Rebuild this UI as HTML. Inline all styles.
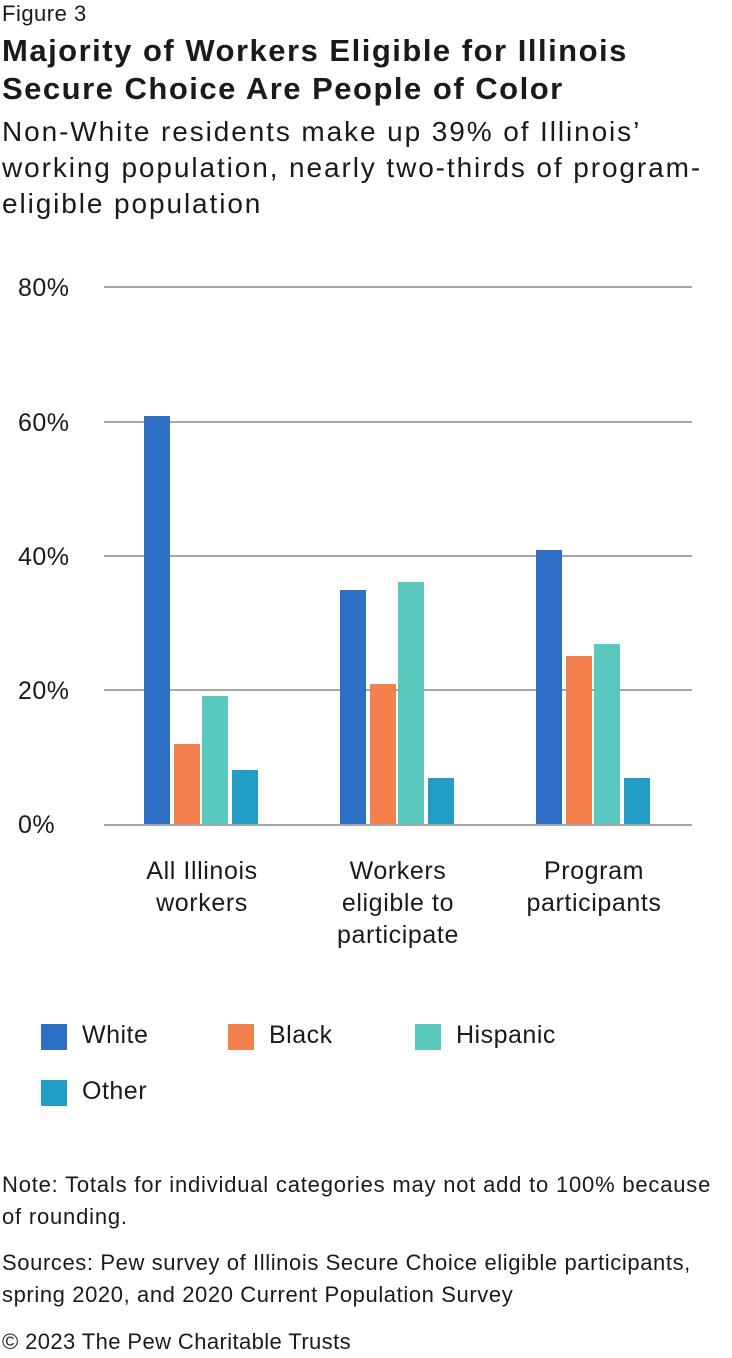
<!DOCTYPE html>
<html><head><style>
body{margin:0;width:732px;height:1358px;background:#fff;font-family:"Liberation Sans",sans-serif;color:#1a1a1a;position:relative;overflow:hidden}
.t{position:absolute;left:2px;white-space:nowrap}
.bar{position:absolute;width:26px}
.g{position:absolute;left:104px;width:588px;height:2px;background:#a6a6a6}
.yl{position:absolute;left:18px;font-size:25px;letter-spacing:0.5px}
.xl{position:absolute;width:196px;text-align:center;font-size:25px;line-height:32px;letter-spacing:0.6px}
.sq{position:absolute;width:26px;height:26px}
.lg{position:absolute;font-size:25px;letter-spacing:0.5px}
</style></head><body>
<div class="t" style="top:1px;font-size:22px;letter-spacing:0.5px">Figure 3</div>
<div class="t" style="top:32px;font-size:31px;font-weight:bold;line-height:38px;letter-spacing:1.5px">Majority of Workers Eligible for Illinois<br>Secure Choice Are People of Color</div>
<div class="t" style="top:114px;font-size:28px;line-height:36px;letter-spacing:1.9px">Non-White residents make up 39% of Illinois’<br>working population, nearly two-thirds of program-<br>eligible population</div>

<div class="g" style="top:286px"></div>
<div class="g" style="top:421px"></div>
<div class="g" style="top:555px"></div>
<div class="g" style="top:689px"></div>
<div class="yl" style="top:274px">80%</div>
<div class="yl" style="top:409px">60%</div>
<div class="yl" style="top:543px">40%</div>
<div class="yl" style="top:677px">20%</div>
<div class="yl" style="top:811px">0%</div>

<div class="bar" style="left:144px;top:416px;height:409px;background:#2c6fc4"></div>
<div class="bar" style="left:174px;top:744px;height:81px;background:#f4804d"></div>
<div class="bar" style="left:202px;top:696px;height:129px;background:#5bc8bf"></div>
<div class="bar" style="left:232px;top:770px;height:55px;background:#229ec6"></div>

<div class="bar" style="left:340px;top:590px;height:235px;background:#2c6fc4"></div>
<div class="bar" style="left:370px;top:684px;height:141px;background:#f4804d"></div>
<div class="bar" style="left:398px;top:582px;height:243px;background:#5bc8bf"></div>
<div class="bar" style="left:428px;top:778px;height:47px;background:#229ec6"></div>

<div class="bar" style="left:536px;top:550px;height:275px;background:#2c6fc4"></div>
<div class="bar" style="left:566px;top:656px;height:169px;background:#f4804d"></div>
<div class="bar" style="left:594px;top:644px;height:181px;background:#5bc8bf"></div>
<div class="bar" style="left:624px;top:778px;height:47px;background:#229ec6"></div>
<div class="g" style="top:824px"></div>

<div class="xl" style="left:104px;top:855px">All Illinois<br>workers</div>
<div class="xl" style="left:300px;top:855px">Workers<br>eligible to<br>participate</div>
<div class="xl" style="left:496px;top:855px">Program<br>participants</div>

<div class="sq" style="left:41px;top:1024px;background:#2c6fc4"></div><div class="lg" style="left:82px;top:1021px">White</div>
<div class="sq" style="left:228px;top:1024px;background:#f4804d"></div><div class="lg" style="left:269px;top:1021px">Black</div>
<div class="sq" style="left:415px;top:1024px;background:#5bc8bf"></div><div class="lg" style="left:456px;top:1021px">Hispanic</div>
<div class="sq" style="left:41px;top:1080px;background:#229ec6"></div><div class="lg" style="left:82px;top:1077px">Other</div>

<div class="t" style="top:1169px;font-size:22px;line-height:32px;letter-spacing:0.8px">Note: Totals for individual categories may not add to 100% because<br>of rounding.</div>
<div class="t" style="top:1247px;font-size:22px;line-height:32px;letter-spacing:0.6px">Sources: Pew survey of Illinois Secure Choice eligible participants,<br>spring 2020, and 2020 Current Population Survey</div>
<div class="t" style="top:1329px;font-size:22px;letter-spacing:0.4px">© 2023 The Pew Charitable Trusts</div>
</body></html>
